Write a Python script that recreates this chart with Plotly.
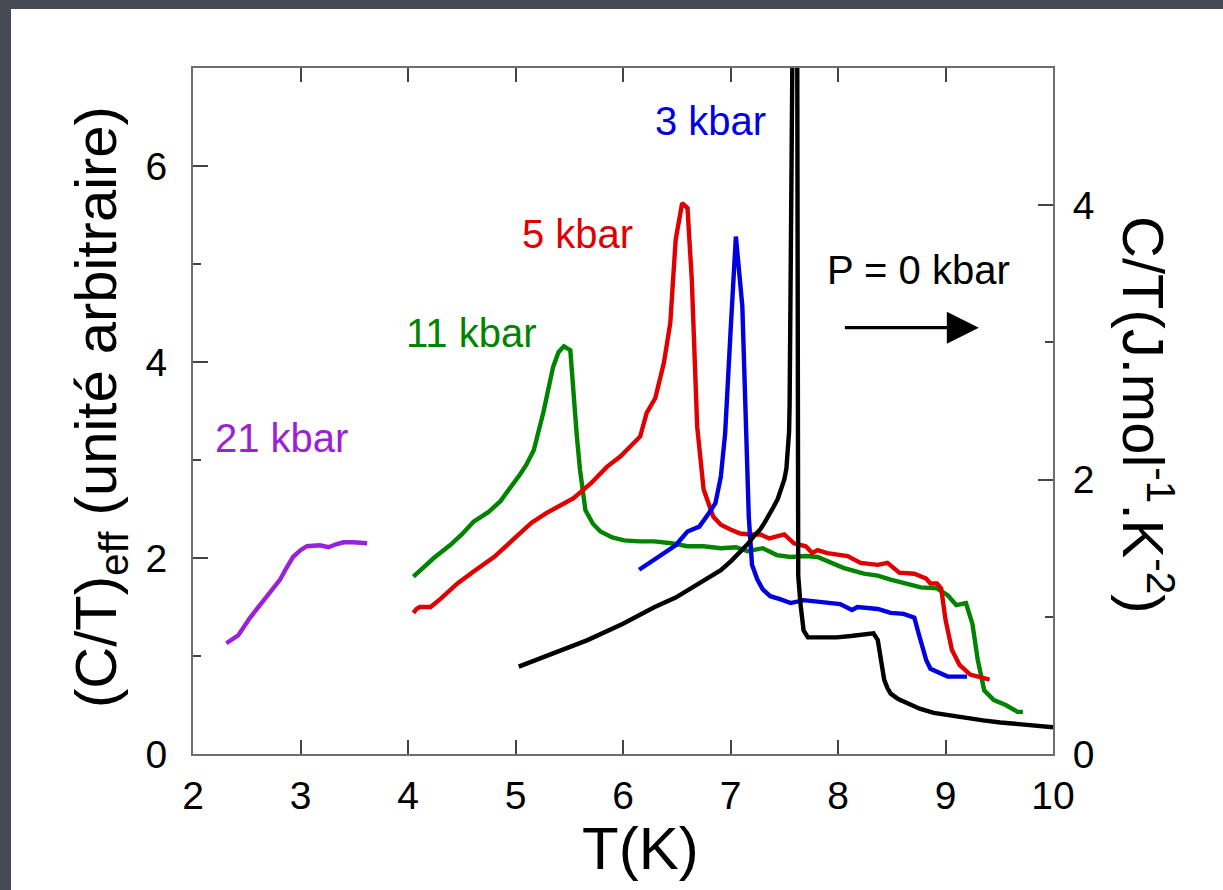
import plotly.graph_objects as go

# ---------------- data ----------------
T_21 = [2.31, 2.42, 2.53, 2.64, 2.75, 2.81, 2.87, 2.93, 3.00, 3.06, 3.18, 3.26, 3.33, 3.40, 3.49, 3.62]
C_21 = [1.13, 1.21, 1.39, 1.55, 1.71, 1.78, 1.90, 2.01, 2.08, 2.12, 2.13, 2.11, 2.14, 2.16, 2.16, 2.15]

T_11 = [4.05, 4.15, 4.24, 4.39, 4.50, 4.61, 4.75, 4.86, 4.96, 5.04, 5.10, 5.17, 5.26, 5.35, 5.40,
        5.45, 5.51, 5.54, 5.57, 5.60, 5.65, 5.72, 5.79, 5.90, 6.01, 6.15, 6.29, 6.45, 6.60, 6.75,
        6.91, 7.05, 7.16, 7.30, 7.43, 7.56, 7.70, 7.81, 7.93, 8.05, 8.24, 8.37, 8.49, 8.65, 8.77,
        8.92, 9.02, 9.10, 9.19, 9.25, 9.30, 9.36, 9.45, 9.56, 9.67, 9.72]
C_11 = [1.81, 1.91, 2.00, 2.13, 2.24, 2.37, 2.47, 2.58, 2.72, 2.85, 2.95, 3.10, 3.49, 3.95, 4.10,
        4.16, 4.12, 3.65, 3.25, 2.90, 2.49, 2.35, 2.27, 2.21, 2.18, 2.17, 2.17, 2.15, 2.12, 2.12,
        2.10, 2.11, 2.07, 2.10, 2.03, 2.01, 2.02, 2.01, 1.96, 1.90, 1.84, 1.82, 1.78, 1.74, 1.70,
        1.69, 1.62, 1.52, 1.54, 1.33, 0.96, 0.65, 0.55, 0.50, 0.43, 0.43]

T_5 = [4.05, 4.08, 4.11, 4.21, 4.30, 4.46, 4.62, 4.80, 5.01, 5.15, 5.29, 5.42, 5.54, 5.70, 5.85,
       5.98, 6.16, 6.22, 6.30, 6.38, 6.44, 6.49, 6.55, 6.60, 6.64, 6.69, 6.75, 6.84, 6.91, 7.00,
       7.09, 7.19, 7.28, 7.36, 7.50, 7.59, 7.70, 7.76, 7.81, 7.90, 8.09, 8.21, 8.37, 8.46, 8.57,
       8.71, 8.82, 8.86, 8.92, 8.96, 9.00, 9.06, 9.13, 9.23, 9.41]
C_5 = [1.44, 1.48, 1.50, 1.50, 1.58, 1.74, 1.87, 2.01, 2.22, 2.36, 2.46, 2.54, 2.61, 2.76, 2.93,
       3.04, 3.24, 3.48, 3.63, 3.99, 4.40, 5.25, 5.62, 5.57, 4.84, 3.34, 2.70, 2.42, 2.34, 2.29,
       2.25, 2.24, 2.24, 2.20, 2.24, 2.15, 2.12, 2.05, 2.08, 2.05, 2.02, 1.95, 1.93, 1.95, 1.85,
       1.84, 1.79, 1.74, 1.74, 1.69, 1.37, 1.06, 0.91, 0.81, 0.76]

T_3 = [6.15, 6.25, 6.35, 6.49, 6.60, 6.71, 6.80, 6.86, 6.91, 6.95, 7.00, 7.05, 7.11, 7.14, 7.17,
       7.20, 7.25, 7.30, 7.37, 7.46, 7.56, 7.68, 7.84, 8.02, 8.13, 8.18, 8.37, 8.49, 8.61, 8.71,
       8.75, 8.82, 8.86, 8.96, 9.02, 9.20]
C_3 = [1.88, 1.95, 2.03, 2.13, 2.27, 2.32, 2.46, 2.56, 2.83, 3.27, 4.30, 5.28, 4.57, 3.44, 2.42,
       1.93, 1.78, 1.68, 1.61, 1.58, 1.54, 1.57, 1.55, 1.53, 1.47, 1.50, 1.48, 1.44, 1.43, 1.39,
       1.23, 0.96, 0.87, 0.82, 0.79, 0.79]

# P = 0 kbar, absolute units (right axis, J.mol-1.K-2)
T_0 = [5.03, 5.30, 5.67, 6.00, 6.29, 6.49, 6.66, 6.80, 6.91, 7.01, 7.10, 7.16, 7.22, 7.28,
       7.32, 7.36, 7.40, 7.44, 7.47, 7.50, 7.52, 7.53, 7.545, 7.55, 7.56, 7.57, 7.58, 7.62,
       7.62, 7.63, 7.65, 7.68, 7.72, 7.85, 7.99, 8.12, 8.25, 8.33, 8.37, 8.40, 8.43, 8.46, 8.49,
       8.56, 8.65, 8.76, 8.89, 9.05, 9.20, 9.35, 9.51, 9.75, 10.0]
C_0 = [0.637, 0.72, 0.83, 0.95, 1.07, 1.14, 1.22, 1.29, 1.34, 1.41, 1.48, 1.53, 1.59, 1.64,
       1.69, 1.74, 1.80, 1.86, 1.92, 2.00, 2.08, 2.18, 2.35, 2.55, 3.31, 4.04, 5.5, 5.5,
       1.61, 1.30, 1.10, 0.90, 0.85, 0.85, 0.85, 0.86, 0.87, 0.88, 0.83, 0.69, 0.54, 0.48, 0.44,
       0.40, 0.37, 0.33, 0.30, 0.28, 0.26, 0.245, 0.23, 0.21, 0.195]

x_ticks = [2, 3, 4, 5, 6, 7, 8, 9, 10]
y_ticks = [0, 2, 4, 6]
y2_ticks = [0, 2, 4]

# ---------------- style ----------------
FONT = "Liberation Sans, Arial, sans-serif"
COL_21 = "#9a22d6"
COL_11 = "#008400"
COL_5 = "#e00000"
COL_3 = "#0000e0"
COL_0 = "#000000"
AXC = "#6e6e6e"
TKC = "#444"
TICK_SIZE = 39
LAB_SIZE = 40
TITLE_SIZE = 60
LW = 4.4

fig = go.Figure()
for T, C, col in [(T_21, C_21, COL_21), (T_11, C_11, COL_11), (T_5, C_5, COL_5), (T_3, C_3, COL_3)]:
    fig.add_trace(go.Scatter(x=T, y=C, mode="lines", line=dict(color=col, width=LW),
                             showlegend=False, hoverinfo="skip"))
fig.add_trace(go.Scatter(x=T_0, y=C_0, mode="lines", yaxis="y2",
                         line=dict(color=COL_0, width=LW), showlegend=False, hoverinfo="skip"))

W, H = 1223, 890
L, R, TOP, B = 193, 170, 68, 136
pw, ph = W - L - R, H - TOP - B


def px(xp):
    return (xp - L) / pw


def py(yp):
    return (H - B - yp) / ph


fig.update_layout(
    width=W, height=H, autosize=False,
    margin=dict(l=L, r=R, t=TOP, b=B, pad=0),
    paper_bgcolor="#454a55",
    plot_bgcolor="white",
    font=dict(family=FONT, color="black", size=TICK_SIZE),
    xaxis=dict(range=[2, 10], tickvals=x_ticks, ticks="inside", ticklen=14, tickwidth=1.5,
               tickcolor=TKC, showline=True, linecolor=AXC, linewidth=2, mirror="ticks",
               showgrid=False, zeroline=False, tickfont=dict(size=TICK_SIZE),
               ticklabelstandoff=6),
    yaxis=dict(range=[0, 7], tickvals=y_ticks, ticks="inside", ticklen=15, tickwidth=1.5,
               tickcolor=TKC, showline=True, linecolor=AXC, linewidth=2,
               showgrid=False, zeroline=False, tickfont=dict(size=TICK_SIZE),
               minor=dict(tickvals=[1, 3, 5], ticks="inside", ticklen=8, tickwidth=1.5, tickcolor=TKC),
               ticklabelstandoff=16),
    yaxis2=dict(range=[0, 5], tickvals=y2_ticks, overlaying="y", side="right", ticks="inside",
                ticklen=15, tickwidth=1.5, tickcolor=TKC, showline=True, linecolor=AXC,
                linewidth=2, showgrid=False, zeroline=False, tickfont=dict(size=TICK_SIZE),
                minor=dict(tickvals=[1, 3], ticks="inside", ticklen=8, tickwidth=1.5, tickcolor=TKC),
                ticklabelstandoff=10),
    shapes=[dict(type="rect", xref="paper", yref="paper", layer="below",
                 x0=px(11), x1=px(1240), y0=py(900), y1=py(9),
                 fillcolor="white", line=dict(width=0))],
)

labels = [
    ("3 kbar", 6.81, 6.46, COL_3),
    ("5 kbar", 5.575, 5.31, COL_5),
    ("11 kbar", 4.59, 4.30, COL_11),
    ("21 kbar", 2.82, 3.22, COL_21),
    ("P = 0 kbar", 8.75, 4.94, "black"),
]
for txt, x, y, col in labels:
    fig.add_annotation(x=x, y=y, xref="x", yref="y", text=txt, showarrow=False,
                       font=dict(size=LAB_SIZE, color=col, family=FONT),
                       xanchor="center", yanchor="middle")

# arrow pointing to the right axis
fig.add_annotation(x=9.31, y=4.35, ax=8.05, ay=4.35, xref="x", yref="y", axref="x", ayref="y",
                   text="", showarrow=True, arrowhead=2, arrowsize=2.0, arrowwidth=3.2,
                   arrowcolor="black")

# axis titles
fig.add_annotation(x=px(640), y=py(848), xref="paper", yref="paper", text="T(K)",
                   showarrow=False, font=dict(size=TITLE_SIZE, family=FONT),
                   xanchor="center", yanchor="middle")
fig.add_annotation(x=px(100), y=py(407), xref="paper", yref="paper",
                   text="(C/T)<sub>eff</sub> (unité arbitraire)", textangle=-90,
                   showarrow=False, font=dict(size=TITLE_SIZE - 2, family=FONT),
                   xanchor="center", yanchor="middle")
fig.add_annotation(x=px(1148), y=py(415), xref="paper", yref="paper",
                   text="C/T(J.mol<sup>-1</sup>.K<sup>-2</sup>)", textangle=90,
                   showarrow=False, font=dict(size=TITLE_SIZE - 2, family=FONT),
                   xanchor="center", yanchor="middle")

fig.write_html("out.html")
